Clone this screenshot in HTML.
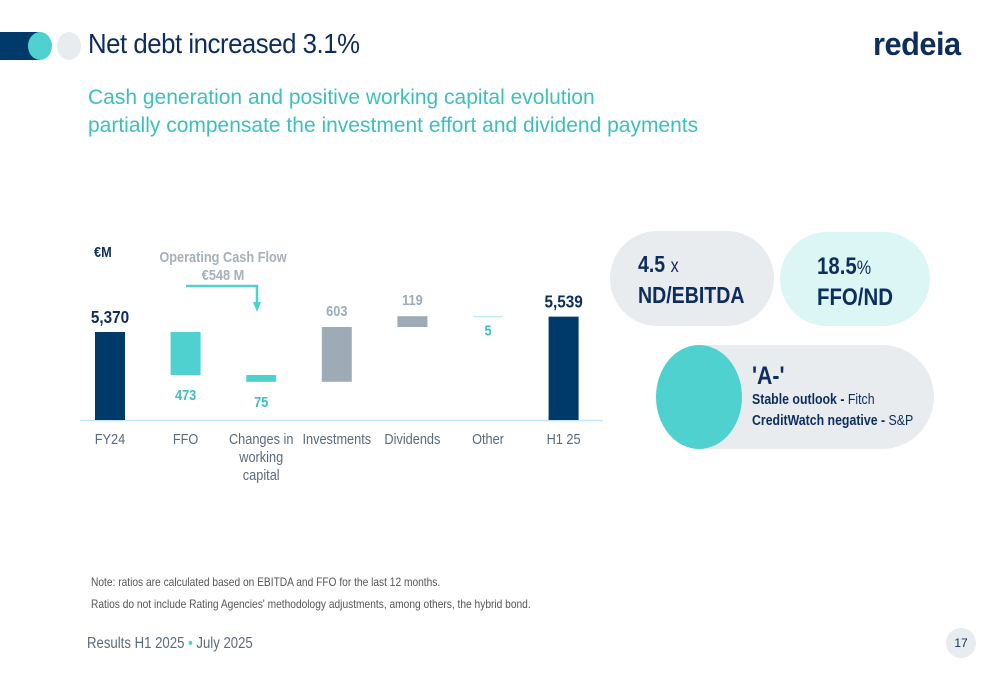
<!DOCTYPE html>
<html><head><meta charset="utf-8"><style>
body{margin:0;width:1000px;height:685px;background:#fff;overflow:hidden;font-family:"Liberation Sans",sans-serif;position:relative}
.a{position:absolute}
.n{transform:scaleX(0.85);transform-origin:left top;white-space:nowrap}
</style></head><body>
<div class="a" style="left:0;top:32px;width:40px;height:28px;background:#003a6b"></div>
<div class="a" style="left:28px;top:32px;width:24px;height:28px;border-radius:50%;background:#4fd1d0"></div>
<div class="a" style="left:57px;top:32px;width:24px;height:28px;border-radius:50%;background:#e8ecef"></div>
<div class="a" style="left:88px;top:28px;font-size:28px;color:#0d2d5c;letter-spacing:-0.5px;transform:scaleX(0.92);transform-origin:left top;white-space:nowrap">Net debt increased 3.1%</div>
<div class="a" style="left:873px;top:26px;font-size:32px;font-weight:bold;color:#0d2d5c;letter-spacing:-0.5px;transform:scaleX(0.96);transform-origin:left top">redeia</div>
<div class="a" style="left:88px;top:84px;font-size:21px;line-height:28px;color:#3cc0be">Cash generation and positive working capital evolution<br>partially compensate the investment effort and dividend payments</div>

<svg class="a" style="left:0;top:0" width="1000" height="685" id="chart"></svg>

<div class="a" style="left:610px;top:231px;width:164px;height:95px;border-radius:48px;background:#e8ecef"></div>
<div class="a n" style="left:638px;top:250px;color:#0d2d5c;font-weight:bold;font-size:23px;line-height:29px">4.5 <span style="font-weight:normal;font-size:19px">x</span><br>ND/EBITDA</div>
<div class="a" style="left:780px;top:232px;width:150px;height:94px;border-radius:47px;background:#dcf6f6"></div>
<div class="a n" style="left:817px;top:252px;color:#0d2d5c;font-weight:bold;font-size:24px;line-height:29px">18.5<span style="font-weight:normal;font-size:19px">%</span><br>FFO/ND</div>
<div class="a" style="left:656px;top:345px;width:278px;height:104px;border-radius:52px;background:#e8ecef"></div>
<div class="a" style="left:656px;top:345px;width:86px;height:104px;border-radius:50%;background:#4fd1d0"></div>
<div class="a n" style="left:752px;top:362px;color:#0d2d5c;font-size:14.5px;line-height:21px"><div style="font-size:25px;font-weight:bold;line-height:28px">'A-'</div><b>Stable outlook -</b> Fitch<br><b>CreditWatch negative -</b> S&amp;P</div>

<div class="a n" style="left:91px;top:575px;font-size:12px;color:#555">Note: ratios are calculated based on EBITDA and FFO for the last 12 months.</div>
<div class="a n" style="left:91px;top:597px;font-size:12px;color:#555">Ratios do not include Rating Agencies' methodology adjustments, among others, the hybrid bond.</div>
<div class="a n" style="left:87px;top:635px;font-size:15.5px;color:#5a6a7a">Results H1 2025 <span style="color:#4fd1d0">•</span> July 2025</div>
<div class="a" style="left:946px;top:628px;width:30px;height:30px;border-radius:50%;background:#e8ecef;font-size:12px;line-height:30px;text-align:center;color:#0d2d5c">17</div>

<script>
const categories=["FY24","FFO","Changes in|working|capital","Investments","Dividends","Other","H1 25"];
const deltas=[5370,-473,-75,603,119,-5,5539];
const kinds=["total","down","down","up","up","down","total"];
const labels=["5,370","473","75","603","119","5","5,539"];
const svg=document.getElementById('chart');
const NS="http://www.w3.org/2000/svg";
const base=4402,k=43/473,baseY=420;
const y=v=>baseY-(v-base)*k;
const xc=i=>110+i*75.6;
function mk(t,a){const e=document.createElementNS(NS,t);for(const n in a)e.setAttribute(n,a[n]);svg.appendChild(e);return e;}
function txt(x,yy,s,a){const e=mk('text',Object.assign({x:0,y:0,transform:`translate(${x},${yy}) scale(0.85,1)`},a));e.textContent=s;return e;}
const col={total:"#003a6b",down:"#4fd1d0",up:"#9eabb6"};
const lblCol={total:"#0d2d5c",down:"#3cc0be",up:"#9eabb6"};
let run=0;
const ax=mk('line',{x1:80,x2:603,y1:baseY+0.5,y2:baseY+0.5,stroke:"#bfe6f5","stroke-width":1.5});

categories.forEach((c,i)=>{
  let top,bot,prev=run;
  if(kinds[i]==="total"){run=deltas[i];top=y(run);bot=baseY;}
  else{run=prev+deltas[i];top=y(Math.max(prev,run));bot=y(Math.min(prev,run));}
  const h=Math.max(bot-top,1);
  const r=mk('rect',{x:xc(i)-15,y:top,width:30,height:h,fill:kinds[i]==="down"&&i===5?"#a8e8e8":col[kinds[i]]});
  
  
  let ly,fs=15;
  if(kinds[i]==="total"){ly=top-9;fs=18;}
  else if(kinds[i]==="up"){ly=top-11;}
  else{ly=bot+(i===5?19:25);}
  const t=txt(xc(i),ly,labels[i],{"text-anchor":"middle","font-size":fs,"font-weight":"bold",fill:lblCol[kinds[i]]});
  
  c.split('|').forEach((ln,j)=>{
    const tt=txt(xc(i),444+j*18,ln,{"text-anchor":"middle","font-size":15,fill:"#5a6a7a"});
    
  });
});
const u=txt(94,257,"€M",{"font-size":15,"font-weight":"bold",fill:"#0d2d5c"});

const o1=txt(223,262,"Operating Cash Flow",{"text-anchor":"middle","font-size":15,"font-weight":"bold",fill:"#a5b0ba"});

const o2=txt(223,280,"€548 M",{"text-anchor":"middle","font-size":15,"font-weight":"bold",fill:"#a5b0ba"});

const p=mk('path',{d:"M186 286 H257 V306",fill:"none",stroke:"#4fd1d0","stroke-width":2.5});

const ar=mk('path',{d:"M253 302 L261 302 L257 312 Z",fill:"#4fd1d0"});

</script>
</body></html>
